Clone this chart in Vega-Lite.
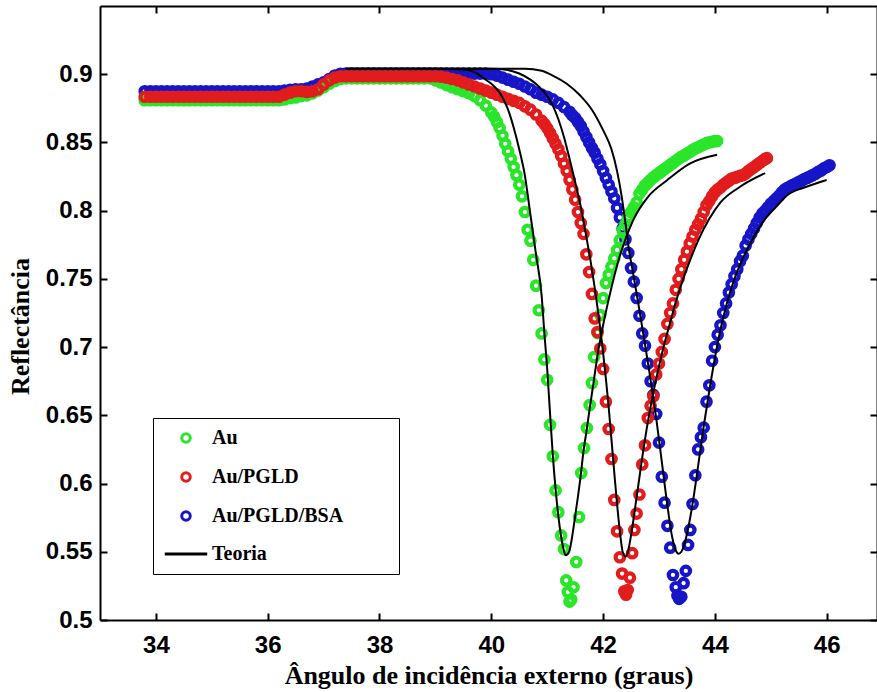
{
"$schema":"https://vega.github.io/schema/vega-lite/v6.json",
"width":777,"height":614,
"autosize":{"type":"none"},
"padding":{"left":100,"top":6,"right":0,"bottom":72},
"background":"white",
"config":{"view":{"stroke":null},
"axis":{"domainColor":"black","domainWidth":2,"tickColor":"black","tickWidth":2,"tickSize":-7,"grid":false,"labelColor":"black","labelFont":"Liberation Sans","labelFontWeight":"bold","labelFontSize":24,"titleColor":"black","titleFont":"Liberation Serif","titleFontWeight":"bold","titleFontSize":26},
"legend":{"orient":"none","legendX":53,"legendY":412,"strokeColor":"black","fillColor":"white","padding":10,"rowPadding":17,"labelFont":"Liberation Serif","labelFontWeight":"bold","labelFontSize":20,"labelColor":"black","labelLimit":400,"symbolSize":72,"symbolStrokeWidth":3,"symbolOffset":13,"labelOffset":16,"titleOrient":"right","titleFont":"Liberation Serif","titleFontSize":20,"titlePadding":46}},
"datasets":{
"points":[
{"series":"Au/PGLD/BSA","angle":33.8,"R":0.8875},{"series":"Au/PGLD/BSA","angle":33.9,"R":0.8875},{"series":"Au/PGLD/BSA","angle":34.0,"R":0.8875},{"series":"Au/PGLD/BSA","angle":34.1,"R":0.8875},{"series":"Au/PGLD/BSA","angle":34.2,"R":0.8875},{"series":"Au/PGLD/BSA","angle":34.3,"R":0.8875},{"series":"Au/PGLD/BSA","angle":34.4,"R":0.8875},{"series":"Au/PGLD/BSA","angle":34.5,"R":0.8875},{"series":"Au/PGLD/BSA","angle":34.6,"R":0.8875},{"series":"Au/PGLD/BSA","angle":34.7,"R":0.8875},{"series":"Au/PGLD/BSA","angle":34.8,"R":0.8875},{"series":"Au/PGLD/BSA","angle":34.9,"R":0.8875},{"series":"Au/PGLD/BSA","angle":35.0,"R":0.8875},{"series":"Au/PGLD/BSA","angle":35.1,"R":0.8875},{"series":"Au/PGLD/BSA","angle":35.2,"R":0.8875},{"series":"Au/PGLD/BSA","angle":35.3,"R":0.8875},{"series":"Au/PGLD/BSA","angle":35.4,"R":0.8875},{"series":"Au/PGLD/BSA","angle":35.5,"R":0.8875},{"series":"Au/PGLD/BSA","angle":35.6,"R":0.8875},{"series":"Au/PGLD/BSA","angle":35.7,"R":0.8875},{"series":"Au/PGLD/BSA","angle":35.8,"R":0.8875},{"series":"Au/PGLD/BSA","angle":35.9,"R":0.8875},{"series":"Au/PGLD/BSA","angle":36.0,"R":0.8875},{"series":"Au/PGLD/BSA","angle":36.1,"R":0.8875},{"series":"Au/PGLD/BSA","angle":36.2,"R":0.8875},
{"series":"Au/PGLD/BSA","angle":36.3,"R":0.888},{"series":"Au/PGLD/BSA","angle":36.4,"R":0.8885},{"series":"Au/PGLD/BSA","angle":36.5,"R":0.889},{"series":"Au/PGLD/BSA","angle":36.6,"R":0.889},{"series":"Au/PGLD/BSA","angle":36.7,"R":0.8895},{"series":"Au/PGLD/BSA","angle":36.8,"R":0.891},{"series":"Au/PGLD/BSA","angle":36.9,"R":0.8925},{"series":"Au/PGLD/BSA","angle":37.0,"R":0.894},{"series":"Au/PGLD/BSA","angle":37.1,"R":0.8965},{"series":"Au/PGLD/BSA","angle":37.2,"R":0.899},{"series":"Au/PGLD/BSA","angle":37.3,"R":0.9003},
{"series":"Au/PGLD/BSA","angle":37.4,"R":0.9005},{"series":"Au/PGLD/BSA","angle":37.5,"R":0.9005},{"series":"Au/PGLD/BSA","angle":37.6,"R":0.9005},{"series":"Au/PGLD/BSA","angle":37.7,"R":0.9005},{"series":"Au/PGLD/BSA","angle":37.8,"R":0.9005},{"series":"Au/PGLD/BSA","angle":37.9,"R":0.9005},{"series":"Au/PGLD/BSA","angle":38.0,"R":0.9005},{"series":"Au/PGLD/BSA","angle":38.1,"R":0.9005},{"series":"Au/PGLD/BSA","angle":38.2,"R":0.9005},{"series":"Au/PGLD/BSA","angle":38.3,"R":0.9005},{"series":"Au/PGLD/BSA","angle":38.4,"R":0.9005},{"series":"Au/PGLD/BSA","angle":38.5,"R":0.9005},{"series":"Au/PGLD/BSA","angle":38.6,"R":0.9005},{"series":"Au/PGLD/BSA","angle":38.7,"R":0.9005},{"series":"Au/PGLD/BSA","angle":38.8,"R":0.9005},{"series":"Au/PGLD/BSA","angle":38.9,"R":0.9005},{"series":"Au/PGLD/BSA","angle":39.0,"R":0.9005},{"series":"Au/PGLD/BSA","angle":39.1,"R":0.9005},{"series":"Au/PGLD/BSA","angle":39.2,"R":0.9005},{"series":"Au/PGLD/BSA","angle":39.3,"R":0.9005},{"series":"Au/PGLD/BSA","angle":39.4,"R":0.9005},{"series":"Au/PGLD/BSA","angle":39.5,"R":0.9005},{"series":"Au/PGLD/BSA","angle":39.6,"R":0.9005},{"series":"Au/PGLD/BSA","angle":39.7,"R":0.9005},{"series":"Au/PGLD/BSA","angle":39.8,"R":0.9005},{"series":"Au/PGLD/BSA","angle":39.9,"R":0.9005},
{"series":"Au/PGLD/BSA","angle":40.0,"R":0.900},{"series":"Au/PGLD/BSA","angle":40.1,"R":0.899},{"series":"Au/PGLD/BSA","angle":40.2,"R":0.8975},{"series":"Au/PGLD/BSA","angle":40.3,"R":0.896},{"series":"Au/PGLD/BSA","angle":40.4,"R":0.8945},{"series":"Au/PGLD/BSA","angle":40.5,"R":0.893},{"series":"Au/PGLD/BSA","angle":40.6,"R":0.891},{"series":"Au/PGLD/BSA","angle":40.7,"R":0.889},{"series":"Au/PGLD/BSA","angle":40.8,"R":0.8865},{"series":"Au/PGLD/BSA","angle":40.9,"R":0.885},{"series":"Au/PGLD/BSA","angle":41.0,"R":0.8835},{"series":"Au/PGLD/BSA","angle":41.1,"R":0.8815},{"series":"Au/PGLD/BSA","angle":41.2,"R":0.879},{"series":"Au/PGLD/BSA","angle":41.3,"R":0.876},{"series":"Au/PGLD/BSA","angle":41.4,"R":0.8725},{"series":"Au/PGLD/BSA","angle":41.45,"R":0.870},
{"series":"Au/PGLD/BSA","angle":41.5,"R":0.868},{"series":"Au/PGLD/BSA","angle":41.55,"R":0.865},{"series":"Au/PGLD/BSA","angle":41.6,"R":0.862},{"series":"Au/PGLD/BSA","angle":41.65,"R":0.858},{"series":"Au/PGLD/BSA","angle":41.7,"R":0.854},{"series":"Au/PGLD/BSA","angle":41.75,"R":0.850},{"series":"Au/PGLD/BSA","angle":41.8,"R":0.846},{"series":"Au/PGLD/BSA","angle":41.85,"R":0.8425},{"series":"Au/PGLD/BSA","angle":41.9,"R":0.838},{"series":"Au/PGLD/BSA","angle":41.95,"R":0.834},{"series":"Au/PGLD/BSA","angle":42.0,"R":0.829},{"series":"Au/PGLD/BSA","angle":42.05,"R":0.824},{"series":"Au/PGLD/BSA","angle":42.1,"R":0.819},{"series":"Au/PGLD/BSA","angle":42.15,"R":0.814},{"series":"Au/PGLD/BSA","angle":42.2,"R":0.809},{"series":"Au/PGLD/BSA","angle":42.25,"R":0.802},{"series":"Au/PGLD/BSA","angle":42.3,"R":0.795},{"series":"Au/PGLD/BSA","angle":42.35,"R":0.787},{"series":"Au/PGLD/BSA","angle":42.4,"R":0.779},{"series":"Au/PGLD/BSA","angle":42.45,"R":0.769},{"series":"Au/PGLD/BSA","angle":42.5,"R":0.758},{"series":"Au/PGLD/BSA","angle":42.55,"R":0.748},{"series":"Au/PGLD/BSA","angle":42.6,"R":0.736},{"series":"Au/PGLD/BSA","angle":42.65,"R":0.723},{"series":"Au/PGLD/BSA","angle":42.7,"R":0.710},{"series":"Au/PGLD/BSA","angle":42.75,"R":0.701},{"series":"Au/PGLD/BSA","angle":42.8,"R":0.688},{"series":"Au/PGLD/BSA","angle":42.85,"R":0.675},{"series":"Au/PGLD/BSA","angle":42.9,"R":0.665},{"series":"Au/PGLD/BSA","angle":42.95,"R":0.651},{"series":"Au/PGLD/BSA","angle":43.0,"R":0.630},{"series":"Au/PGLD/BSA","angle":43.05,"R":0.605},{"series":"Au/PGLD/BSA","angle":43.1,"R":0.586},{"series":"Au/PGLD/BSA","angle":43.15,"R":0.569},{"series":"Au/PGLD/BSA","angle":43.2,"R":0.553},{"series":"Au/PGLD/BSA","angle":43.25,"R":0.533},{"series":"Au/PGLD/BSA","angle":43.3,"R":0.524},{"series":"Au/PGLD/BSA","angle":43.33,"R":0.518},{"series":"Au/PGLD/BSA","angle":43.36,"R":0.5155},{"series":"Au/PGLD/BSA","angle":43.4,"R":0.517},{"series":"Au/PGLD/BSA","angle":43.44,"R":0.527},{"series":"Au/PGLD/BSA","angle":43.48,"R":0.536},{"series":"Au/PGLD/BSA","angle":43.52,"R":0.555},{"series":"Au/PGLD/BSA","angle":43.56,"R":0.566},{"series":"Au/PGLD/BSA","angle":43.6,"R":0.585},{"series":"Au/PGLD/BSA","angle":43.65,"R":0.606},{"series":"Au/PGLD/BSA","angle":43.7,"R":0.625},{"series":"Au/PGLD/BSA","angle":43.75,"R":0.634},{"series":"Au/PGLD/BSA","angle":43.8,"R":0.641},{"series":"Au/PGLD/BSA","angle":43.85,"R":0.660},{"series":"Au/PGLD/BSA","angle":43.9,"R":0.672},{"series":"Au/PGLD/BSA","angle":43.95,"R":0.690},{"series":"Au/PGLD/BSA","angle":44.0,"R":0.700},{"series":"Au/PGLD/BSA","angle":44.05,"R":0.709},{"series":"Au/PGLD/BSA","angle":44.1,"R":0.716},{"series":"Au/PGLD/BSA","angle":44.15,"R":0.725},{"series":"Au/PGLD/BSA","angle":44.2,"R":0.732},{"series":"Au/PGLD/BSA","angle":44.25,"R":0.740},{"series":"Au/PGLD/BSA","angle":44.3,"R":0.746},{"series":"Au/PGLD/BSA","angle":44.35,"R":0.752},{"series":"Au/PGLD/BSA","angle":44.4,"R":0.757},{"series":"Au/PGLD/BSA","angle":44.45,"R":0.763},{"series":"Au/PGLD/BSA","angle":44.5,"R":0.767},{"series":"Au/PGLD/BSA","angle":44.55,"R":0.7745},{"series":"Au/PGLD/BSA","angle":44.6,"R":0.779},{"series":"Au/PGLD/BSA","angle":44.65,"R":0.783},{"series":"Au/PGLD/BSA","angle":44.7,"R":0.787},{"series":"Au/PGLD/BSA","angle":44.75,"R":0.791},{"series":"Au/PGLD/BSA","angle":44.8,"R":0.795},{"series":"Au/PGLD/BSA","angle":44.85,"R":0.798},{"series":"Au/PGLD/BSA","angle":44.9,"R":0.800},{"series":"Au/PGLD/BSA","angle":44.95,"R":0.8025},{"series":"Au/PGLD/BSA","angle":45.0,"R":0.805},{"series":"Au/PGLD/BSA","angle":45.05,"R":0.807},{"series":"Au/PGLD/BSA","angle":45.1,"R":0.809},{"series":"Au/PGLD/BSA","angle":45.15,"R":0.811},{"series":"Au/PGLD/BSA","angle":45.2,"R":0.8135},{"series":"Au/PGLD/BSA","angle":45.25,"R":0.8155},{"series":"Au/PGLD/BSA","angle":45.3,"R":0.8168},{"series":"Au/PGLD/BSA","angle":45.35,"R":0.8178},{"series":"Au/PGLD/BSA","angle":45.4,"R":0.819},{"series":"Au/PGLD/BSA","angle":45.45,"R":0.8198},{"series":"Au/PGLD/BSA","angle":45.5,"R":0.821},{"series":"Au/PGLD/BSA","angle":45.55,"R":0.822},{"series":"Au/PGLD/BSA","angle":45.6,"R":0.8232},{"series":"Au/PGLD/BSA","angle":45.65,"R":0.824},{"series":"Au/PGLD/BSA","angle":45.7,"R":0.825},{"series":"Au/PGLD/BSA","angle":45.75,"R":0.826},{"series":"Au/PGLD/BSA","angle":45.8,"R":0.827},{"series":"Au/PGLD/BSA","angle":45.85,"R":0.8285},{"series":"Au/PGLD/BSA","angle":45.9,"R":0.8295},{"series":"Au/PGLD/BSA","angle":45.95,"R":0.831},{"series":"Au/PGLD/BSA","angle":46.0,"R":0.832},{"series":"Au/PGLD/BSA","angle":46.05,"R":0.8333},
{"series":"Au","angle":33.8,"R":0.881},{"series":"Au","angle":33.9,"R":0.881},{"series":"Au","angle":34.0,"R":0.881},{"series":"Au","angle":34.1,"R":0.881},{"series":"Au","angle":34.2,"R":0.881},{"series":"Au","angle":34.3,"R":0.881},{"series":"Au","angle":34.4,"R":0.881},{"series":"Au","angle":34.5,"R":0.881},{"series":"Au","angle":34.6,"R":0.881},{"series":"Au","angle":34.7,"R":0.881},{"series":"Au","angle":34.8,"R":0.881},{"series":"Au","angle":34.9,"R":0.881},{"series":"Au","angle":35.0,"R":0.881},{"series":"Au","angle":35.1,"R":0.881},{"series":"Au","angle":35.2,"R":0.881},{"series":"Au","angle":35.3,"R":0.881},{"series":"Au","angle":35.4,"R":0.881},{"series":"Au","angle":35.5,"R":0.881},{"series":"Au","angle":35.6,"R":0.881},{"series":"Au","angle":35.7,"R":0.881},{"series":"Au","angle":35.8,"R":0.881},{"series":"Au","angle":35.9,"R":0.881},{"series":"Au","angle":36.0,"R":0.881},{"series":"Au","angle":36.1,"R":0.881},{"series":"Au","angle":36.2,"R":0.881},
{"series":"Au","angle":36.3,"R":0.8815},{"series":"Au","angle":36.4,"R":0.8825},{"series":"Au","angle":36.5,"R":0.883},{"series":"Au","angle":36.6,"R":0.884},{"series":"Au","angle":36.7,"R":0.8845},{"series":"Au","angle":36.8,"R":0.886},{"series":"Au","angle":36.9,"R":0.888},{"series":"Au","angle":37.0,"R":0.8905},{"series":"Au","angle":37.1,"R":0.893},{"series":"Au","angle":37.2,"R":0.895},{"series":"Au","angle":37.3,"R":0.8965},
{"series":"Au","angle":37.4,"R":0.897},{"series":"Au","angle":37.5,"R":0.897},{"series":"Au","angle":37.6,"R":0.897},{"series":"Au","angle":37.7,"R":0.897},{"series":"Au","angle":37.8,"R":0.897},{"series":"Au","angle":37.9,"R":0.897},{"series":"Au","angle":38.0,"R":0.897},{"series":"Au","angle":38.1,"R":0.897},{"series":"Au","angle":38.2,"R":0.897},{"series":"Au","angle":38.3,"R":0.897},{"series":"Au","angle":38.4,"R":0.897},{"series":"Au","angle":38.5,"R":0.897},{"series":"Au","angle":38.6,"R":0.897},{"series":"Au","angle":38.7,"R":0.897},{"series":"Au","angle":38.8,"R":0.897},{"series":"Au","angle":38.9,"R":0.897},
{"series":"Au","angle":39.0,"R":0.8955},{"series":"Au","angle":39.1,"R":0.894},{"series":"Au","angle":39.2,"R":0.892},{"series":"Au","angle":39.3,"R":0.8905},{"series":"Au","angle":39.4,"R":0.889},{"series":"Au","angle":39.5,"R":0.8875},{"series":"Au","angle":39.6,"R":0.886},{"series":"Au","angle":39.7,"R":0.884},{"series":"Au","angle":39.8,"R":0.881},{"series":"Au","angle":39.9,"R":0.877},{"series":"Au","angle":40.0,"R":0.872},{"series":"Au","angle":40.05,"R":0.869},{"series":"Au","angle":40.1,"R":0.865},{"series":"Au","angle":40.15,"R":0.8605},{"series":"Au","angle":40.2,"R":0.855},{"series":"Au","angle":40.25,"R":0.849},{"series":"Au","angle":40.3,"R":0.8435},{"series":"Au","angle":40.35,"R":0.838},{"series":"Au","angle":40.4,"R":0.832},{"series":"Au","angle":40.45,"R":0.826},{"series":"Au","angle":40.5,"R":0.819},{"series":"Au","angle":40.55,"R":0.8105},{"series":"Au","angle":40.6,"R":0.799},{"series":"Au","angle":40.65,"R":0.786},{"series":"Au","angle":40.7,"R":0.778},{"series":"Au","angle":40.75,"R":0.764},{"series":"Au","angle":40.8,"R":0.745},{"series":"Au","angle":40.85,"R":0.727},{"series":"Au","angle":40.9,"R":0.710},{"series":"Au","angle":40.95,"R":0.691},{"series":"Au","angle":41.0,"R":0.676},{"series":"Au","angle":41.05,"R":0.643},{"series":"Au","angle":41.1,"R":0.620},{"series":"Au","angle":41.15,"R":0.595},{"series":"Au","angle":41.2,"R":0.579},{"series":"Au","angle":41.25,"R":0.562},{"series":"Au","angle":41.3,"R":0.552},{"series":"Au","angle":41.34,"R":0.529},{"series":"Au","angle":41.37,"R":0.5205},{"series":"Au","angle":41.4,"R":0.5135},{"series":"Au","angle":41.43,"R":0.515},{"series":"Au","angle":41.47,"R":0.524},{"series":"Au","angle":41.52,"R":0.5425},{"series":"Au","angle":41.57,"R":0.5755},{"series":"Au","angle":41.61,"R":0.6077},{"series":"Au","angle":41.66,"R":0.626},{"series":"Au","angle":41.71,"R":0.6407},{"series":"Au","angle":41.76,"R":0.6575},{"series":"Au","angle":41.8,"R":0.6737},{"series":"Au","angle":41.84,"R":0.6927},{"series":"Au","angle":41.9,"R":0.7103},{"series":"Au","angle":41.95,"R":0.7235},{"series":"Au","angle":42.0,"R":0.7359},{"series":"Au","angle":42.05,"R":0.7469},{"series":"Au","angle":42.1,"R":0.753},{"series":"Au","angle":42.15,"R":0.759},{"series":"Au","angle":42.2,"R":0.765},{"series":"Au","angle":42.25,"R":0.7711},{"series":"Au","angle":42.3,"R":0.7784},{"series":"Au","angle":42.35,"R":0.7857},{"series":"Au","angle":42.4,"R":0.790},{"series":"Au","angle":42.45,"R":0.795},{"series":"Au","angle":42.5,"R":0.799},{"series":"Au","angle":42.55,"R":0.8025},{"series":"Au","angle":42.6,"R":0.806},{"series":"Au","angle":42.65,"R":0.8125},{"series":"Au","angle":42.7,"R":0.8155},{"series":"Au","angle":42.75,"R":0.8185},{"series":"Au","angle":42.8,"R":0.8205},{"series":"Au","angle":42.85,"R":0.8225},{"series":"Au","angle":42.9,"R":0.8245},{"series":"Au","angle":42.95,"R":0.826},{"series":"Au","angle":43.0,"R":0.8275},{"series":"Au","angle":43.05,"R":0.829},{"series":"Au","angle":43.1,"R":0.8305},{"series":"Au","angle":43.15,"R":0.832},{"series":"Au","angle":43.2,"R":0.8335},{"series":"Au","angle":43.25,"R":0.835},{"series":"Au","angle":43.3,"R":0.8365},{"series":"Au","angle":43.35,"R":0.838},{"series":"Au","angle":43.4,"R":0.8395},{"series":"Au","angle":43.45,"R":0.8405},{"series":"Au","angle":43.5,"R":0.8418},{"series":"Au","angle":43.55,"R":0.843},{"series":"Au","angle":43.6,"R":0.8444},{"series":"Au","angle":43.65,"R":0.8455},{"series":"Au","angle":43.7,"R":0.8465},{"series":"Au","angle":43.75,"R":0.8475},{"series":"Au","angle":43.8,"R":0.8485},{"series":"Au","angle":43.85,"R":0.8495},{"series":"Au","angle":43.9,"R":0.850},{"series":"Au","angle":43.95,"R":0.8505},{"series":"Au","angle":44.0,"R":0.851},{"series":"Au","angle":44.04,"R":0.851},
{"series":"Au/PGLD","angle":33.8,"R":0.8835},{"series":"Au/PGLD","angle":33.9,"R":0.8835},{"series":"Au/PGLD","angle":34.0,"R":0.8835},{"series":"Au/PGLD","angle":34.1,"R":0.8835},{"series":"Au/PGLD","angle":34.2,"R":0.8835},{"series":"Au/PGLD","angle":34.3,"R":0.8835},{"series":"Au/PGLD","angle":34.4,"R":0.8835},{"series":"Au/PGLD","angle":34.5,"R":0.8835},{"series":"Au/PGLD","angle":34.6,"R":0.8835},{"series":"Au/PGLD","angle":34.7,"R":0.8835},{"series":"Au/PGLD","angle":34.8,"R":0.8835},{"series":"Au/PGLD","angle":34.9,"R":0.8835},{"series":"Au/PGLD","angle":35.0,"R":0.8835},{"series":"Au/PGLD","angle":35.1,"R":0.8835},{"series":"Au/PGLD","angle":35.2,"R":0.8835},{"series":"Au/PGLD","angle":35.3,"R":0.8835},{"series":"Au/PGLD","angle":35.4,"R":0.8835},{"series":"Au/PGLD","angle":35.5,"R":0.8835},{"series":"Au/PGLD","angle":35.6,"R":0.8835},{"series":"Au/PGLD","angle":35.7,"R":0.8835},{"series":"Au/PGLD","angle":35.8,"R":0.8835},{"series":"Au/PGLD","angle":35.9,"R":0.8835},{"series":"Au/PGLD","angle":36.0,"R":0.8835},{"series":"Au/PGLD","angle":36.1,"R":0.8835},{"series":"Au/PGLD","angle":36.2,"R":0.8835},
{"series":"Au/PGLD","angle":36.3,"R":0.885},{"series":"Au/PGLD","angle":36.4,"R":0.8865},{"series":"Au/PGLD","angle":36.5,"R":0.8875},{"series":"Au/PGLD","angle":36.6,"R":0.8875},{"series":"Au/PGLD","angle":36.7,"R":0.887},{"series":"Au/PGLD","angle":36.8,"R":0.8875},{"series":"Au/PGLD","angle":36.9,"R":0.889},{"series":"Au/PGLD","angle":37.0,"R":0.8925},{"series":"Au/PGLD","angle":37.1,"R":0.8955},{"series":"Au/PGLD","angle":37.2,"R":0.8975},{"series":"Au/PGLD","angle":37.3,"R":0.8985},
{"series":"Au/PGLD","angle":37.4,"R":0.8985},{"series":"Au/PGLD","angle":37.5,"R":0.8985},{"series":"Au/PGLD","angle":37.6,"R":0.8985},{"series":"Au/PGLD","angle":37.7,"R":0.8985},{"series":"Au/PGLD","angle":37.8,"R":0.8985},{"series":"Au/PGLD","angle":37.9,"R":0.8985},{"series":"Au/PGLD","angle":38.0,"R":0.8985},{"series":"Au/PGLD","angle":38.1,"R":0.8985},{"series":"Au/PGLD","angle":38.2,"R":0.8985},{"series":"Au/PGLD","angle":38.3,"R":0.8985},{"series":"Au/PGLD","angle":38.4,"R":0.8985},{"series":"Au/PGLD","angle":38.5,"R":0.8985},{"series":"Au/PGLD","angle":38.6,"R":0.8985},{"series":"Au/PGLD","angle":38.7,"R":0.8985},{"series":"Au/PGLD","angle":38.8,"R":0.8985},{"series":"Au/PGLD","angle":38.9,"R":0.8985},{"series":"Au/PGLD","angle":39.0,"R":0.8985},
{"series":"Au/PGLD","angle":39.1,"R":0.8982},{"series":"Au/PGLD","angle":39.2,"R":0.8975},{"series":"Au/PGLD","angle":39.3,"R":0.8965},{"series":"Au/PGLD","angle":39.4,"R":0.8955},{"series":"Au/PGLD","angle":39.5,"R":0.894},{"series":"Au/PGLD","angle":39.6,"R":0.8925},{"series":"Au/PGLD","angle":39.7,"R":0.891},{"series":"Au/PGLD","angle":39.8,"R":0.8895},{"series":"Au/PGLD","angle":39.9,"R":0.888},{"series":"Au/PGLD","angle":40.0,"R":0.8865},{"series":"Au/PGLD","angle":40.1,"R":0.885},{"series":"Au/PGLD","angle":40.2,"R":0.8835},{"series":"Au/PGLD","angle":40.3,"R":0.882},{"series":"Au/PGLD","angle":40.4,"R":0.8805},{"series":"Au/PGLD","angle":40.5,"R":0.879},{"series":"Au/PGLD","angle":40.6,"R":0.8765},{"series":"Au/PGLD","angle":40.7,"R":0.874},{"series":"Au/PGLD","angle":40.8,"R":0.8705},{"series":"Au/PGLD","angle":40.9,"R":0.866},{"series":"Au/PGLD","angle":40.95,"R":0.8635},{"series":"Au/PGLD","angle":41.0,"R":0.8605},{"series":"Au/PGLD","angle":41.05,"R":0.857},{"series":"Au/PGLD","angle":41.1,"R":0.853},{"series":"Au/PGLD","angle":41.15,"R":0.849},{"series":"Au/PGLD","angle":41.2,"R":0.845},{"series":"Au/PGLD","angle":41.25,"R":0.840},{"series":"Au/PGLD","angle":41.3,"R":0.8345},{"series":"Au/PGLD","angle":41.35,"R":0.829},{"series":"Au/PGLD","angle":41.4,"R":0.8225},{"series":"Au/PGLD","angle":41.45,"R":0.8155},{"series":"Au/PGLD","angle":41.5,"R":0.808},{"series":"Au/PGLD","angle":41.55,"R":0.799},{"series":"Au/PGLD","angle":41.6,"R":0.791},{"series":"Au/PGLD","angle":41.65,"R":0.783},{"series":"Au/PGLD","angle":41.7,"R":0.768},{"series":"Au/PGLD","angle":41.75,"R":0.755},{"series":"Au/PGLD","angle":41.8,"R":0.739},{"series":"Au/PGLD","angle":41.85,"R":0.721},{"series":"Au/PGLD","angle":41.9,"R":0.711},{"series":"Au/PGLD","angle":41.95,"R":0.699},{"series":"Au/PGLD","angle":42.0,"R":0.684},{"series":"Au/PGLD","angle":42.05,"R":0.660},{"series":"Au/PGLD","angle":42.1,"R":0.640},{"series":"Au/PGLD","angle":42.15,"R":0.618},{"series":"Au/PGLD","angle":42.2,"R":0.588},{"series":"Au/PGLD","angle":42.25,"R":0.565},{"series":"Au/PGLD","angle":42.3,"R":0.546},{"series":"Au/PGLD","angle":42.34,"R":0.534},{"series":"Au/PGLD","angle":42.38,"R":0.521},{"series":"Au/PGLD","angle":42.41,"R":0.5185},{"series":"Au/PGLD","angle":42.44,"R":0.522},{"series":"Au/PGLD","angle":42.48,"R":0.531},{"series":"Au/PGLD","angle":42.52,"R":0.549},{"series":"Au/PGLD","angle":42.56,"R":0.566},{"series":"Au/PGLD","angle":42.6,"R":0.578},{"series":"Au/PGLD","angle":42.65,"R":0.592},{"series":"Au/PGLD","angle":42.7,"R":0.614},{"series":"Au/PGLD","angle":42.75,"R":0.628},{"series":"Au/PGLD","angle":42.8,"R":0.648},{"series":"Au/PGLD","angle":42.85,"R":0.657},{"series":"Au/PGLD","angle":42.9,"R":0.664},{"series":"Au/PGLD","angle":42.95,"R":0.680},{"series":"Au/PGLD","angle":43.0,"R":0.688},{"series":"Au/PGLD","angle":43.05,"R":0.6965},{"series":"Au/PGLD","angle":43.1,"R":0.706},{"series":"Au/PGLD","angle":43.15,"R":0.717},{"series":"Au/PGLD","angle":43.2,"R":0.725},{"series":"Au/PGLD","angle":43.25,"R":0.732},{"series":"Au/PGLD","angle":43.3,"R":0.742},{"series":"Au/PGLD","angle":43.35,"R":0.750},{"series":"Au/PGLD","angle":43.4,"R":0.757},{"series":"Au/PGLD","angle":43.45,"R":0.764},{"series":"Au/PGLD","angle":43.5,"R":0.770},{"series":"Au/PGLD","angle":43.55,"R":0.776},{"series":"Au/PGLD","angle":43.6,"R":0.781},{"series":"Au/PGLD","angle":43.65,"R":0.786},{"series":"Au/PGLD","angle":43.7,"R":0.790},{"series":"Au/PGLD","angle":43.75,"R":0.794},{"series":"Au/PGLD","angle":43.8,"R":0.799},{"series":"Au/PGLD","angle":43.85,"R":0.804},{"series":"Au/PGLD","angle":43.9,"R":0.807},{"series":"Au/PGLD","angle":43.95,"R":0.8105},{"series":"Au/PGLD","angle":44.0,"R":0.8135},{"series":"Au/PGLD","angle":44.05,"R":0.8155},{"series":"Au/PGLD","angle":44.1,"R":0.817},{"series":"Au/PGLD","angle":44.15,"R":0.819},{"series":"Au/PGLD","angle":44.2,"R":0.8205},{"series":"Au/PGLD","angle":44.25,"R":0.822},{"series":"Au/PGLD","angle":44.3,"R":0.8235},{"series":"Au/PGLD","angle":44.35,"R":0.824},{"series":"Au/PGLD","angle":44.4,"R":0.8248},{"series":"Au/PGLD","angle":44.45,"R":0.8255},{"series":"Au/PGLD","angle":44.5,"R":0.826},{"series":"Au/PGLD","angle":44.55,"R":0.8272},{"series":"Au/PGLD","angle":44.6,"R":0.829},{"series":"Au/PGLD","angle":44.65,"R":0.8305},{"series":"Au/PGLD","angle":44.7,"R":0.832},{"series":"Au/PGLD","angle":44.75,"R":0.8335},{"series":"Au/PGLD","angle":44.8,"R":0.835},{"series":"Au/PGLD","angle":44.85,"R":0.8365},{"series":"Au/PGLD","angle":44.9,"R":0.8378},{"series":"Au/PGLD","angle":44.93,"R":0.8385}
],
"theory":[
{"series":"Teoria","curve":"Au","angle":37.4,"R":0.904},{"series":"Teoria","curve":"Au","angle":39.0,"R":0.904},{"series":"Teoria","curve":"Au","angle":39.5,"R":0.9035},{"series":"Teoria","curve":"Au","angle":39.7,"R":0.9015},{"series":"Teoria","curve":"Au","angle":39.8,"R":0.899},{"series":"Teoria","curve":"Au","angle":39.9,"R":0.896},{"series":"Teoria","curve":"Au","angle":40.0,"R":0.893},{"series":"Teoria","curve":"Au","angle":40.1,"R":0.889},{"series":"Teoria","curve":"Au","angle":40.2,"R":0.883},{"series":"Teoria","curve":"Au","angle":40.3,"R":0.874},{"series":"Teoria","curve":"Au","angle":40.4,"R":0.861},{"series":"Teoria","curve":"Au","angle":40.5,"R":0.845},{"series":"Teoria","curve":"Au","angle":40.6,"R":0.826},{"series":"Teoria","curve":"Au","angle":40.7,"R":0.797},{"series":"Teoria","curve":"Au","angle":40.8,"R":0.768},{"series":"Teoria","curve":"Au","angle":40.9,"R":0.738},{"series":"Teoria","curve":"Au","angle":40.95,"R":0.71},{"series":"Teoria","curve":"Au","angle":41.0,"R":0.684},{"series":"Teoria","curve":"Au","angle":41.05,"R":0.652},{"series":"Teoria","curve":"Au","angle":41.1,"R":0.621},{"series":"Teoria","curve":"Au","angle":41.15,"R":0.596},{"series":"Teoria","curve":"Au","angle":41.2,"R":0.576},{"series":"Teoria","curve":"Au","angle":41.25,"R":0.561},{"series":"Teoria","curve":"Au","angle":41.3,"R":0.5505},{"series":"Teoria","curve":"Au","angle":41.33,"R":0.5475},{"series":"Teoria","curve":"Au","angle":41.36,"R":0.548},{"series":"Teoria","curve":"Au","angle":41.4,"R":0.551},{"series":"Teoria","curve":"Au","angle":41.45,"R":0.562},{"series":"Teoria","curve":"Au","angle":41.5,"R":0.576},{"series":"Teoria","curve":"Au","angle":41.55,"R":0.5905},{"series":"Teoria","curve":"Au","angle":41.6,"R":0.606},{"series":"Teoria","curve":"Au","angle":41.65,"R":0.624},{"series":"Teoria","curve":"Au","angle":41.7,"R":0.6375},{"series":"Teoria","curve":"Au","angle":41.75,"R":0.652},{"series":"Teoria","curve":"Au","angle":41.8,"R":0.666},{"series":"Teoria","curve":"Au","angle":41.85,"R":0.680},{"series":"Teoria","curve":"Au","angle":41.9,"R":0.694},{"series":"Teoria","curve":"Au","angle":42.0,"R":0.716},{"series":"Teoria","curve":"Au","angle":42.1,"R":0.735},{"series":"Teoria","curve":"Au","angle":42.2,"R":0.752},{"series":"Teoria","curve":"Au","angle":42.3,"R":0.767},{"series":"Teoria","curve":"Au","angle":42.4,"R":0.779},{"series":"Teoria","curve":"Au","angle":42.55,"R":0.794},{"series":"Teoria","curve":"Au","angle":42.8,"R":0.810},{"series":"Teoria","curve":"Au","angle":43.15,"R":0.8225},{"series":"Teoria","curve":"Au","angle":43.55,"R":0.8345},{"series":"Teoria","curve":"Au","angle":44.04,"R":0.841},
{"series":"Teoria","curve":"Au/PGLD","angle":37.4,"R":0.904},{"series":"Teoria","curve":"Au/PGLD","angle":40.0,"R":0.904},{"series":"Teoria","curve":"Au/PGLD","angle":40.3,"R":0.903},{"series":"Teoria","curve":"Au/PGLD","angle":40.5,"R":0.9005},{"series":"Teoria","curve":"Au/PGLD","angle":40.7,"R":0.896},{"series":"Teoria","curve":"Au/PGLD","angle":40.85,"R":0.891},{"series":"Teoria","curve":"Au/PGLD","angle":41.0,"R":0.884},{"series":"Teoria","curve":"Au/PGLD","angle":41.1,"R":0.877},{"series":"Teoria","curve":"Au/PGLD","angle":41.2,"R":0.867},{"series":"Teoria","curve":"Au/PGLD","angle":41.3,"R":0.854},{"series":"Teoria","curve":"Au/PGLD","angle":41.4,"R":0.838},{"series":"Teoria","curve":"Au/PGLD","angle":41.5,"R":0.821},{"series":"Teoria","curve":"Au/PGLD","angle":41.6,"R":0.803},{"series":"Teoria","curve":"Au/PGLD","angle":41.7,"R":0.781},{"series":"Teoria","curve":"Au/PGLD","angle":41.8,"R":0.757},{"series":"Teoria","curve":"Au/PGLD","angle":41.9,"R":0.729},{"series":"Teoria","curve":"Au/PGLD","angle":42.0,"R":0.696},{"series":"Teoria","curve":"Au/PGLD","angle":42.1,"R":0.656},{"series":"Teoria","curve":"Au/PGLD","angle":42.2,"R":0.608},{"series":"Teoria","curve":"Au/PGLD","angle":42.25,"R":0.585},{"series":"Teoria","curve":"Au/PGLD","angle":42.3,"R":0.565},{"series":"Teoria","curve":"Au/PGLD","angle":42.35,"R":0.550},{"series":"Teoria","curve":"Au/PGLD","angle":42.4,"R":0.5465},{"series":"Teoria","curve":"Au/PGLD","angle":42.45,"R":0.551},{"series":"Teoria","curve":"Au/PGLD","angle":42.5,"R":0.562},{"series":"Teoria","curve":"Au/PGLD","angle":42.6,"R":0.590},{"series":"Teoria","curve":"Au/PGLD","angle":42.7,"R":0.619},{"series":"Teoria","curve":"Au/PGLD","angle":42.8,"R":0.645},{"series":"Teoria","curve":"Au/PGLD","angle":42.9,"R":0.667},{"series":"Teoria","curve":"Au/PGLD","angle":43.0,"R":0.686},{"series":"Teoria","curve":"Au/PGLD","angle":43.1,"R":0.703},{"series":"Teoria","curve":"Au/PGLD","angle":43.2,"R":0.718},{"series":"Teoria","curve":"Au/PGLD","angle":43.3,"R":0.733},{"series":"Teoria","curve":"Au/PGLD","angle":43.4,"R":0.746},{"series":"Teoria","curve":"Au/PGLD","angle":43.55,"R":0.763},{"series":"Teoria","curve":"Au/PGLD","angle":43.7,"R":0.778},{"series":"Teoria","curve":"Au/PGLD","angle":43.9,"R":0.794},{"series":"Teoria","curve":"Au/PGLD","angle":44.1,"R":0.806},{"series":"Teoria","curve":"Au/PGLD","angle":44.45,"R":0.8175},{"series":"Teoria","curve":"Au/PGLD","angle":44.9,"R":0.8275},
{"series":"Teoria","curve":"Au/PGLD/BSA","angle":37.4,"R":0.904},{"series":"Teoria","curve":"Au/PGLD/BSA","angle":40.6,"R":0.904},{"series":"Teoria","curve":"Au/PGLD/BSA","angle":40.9,"R":0.9025},{"series":"Teoria","curve":"Au/PGLD/BSA","angle":41.1,"R":0.899},{"series":"Teoria","curve":"Au/PGLD/BSA","angle":41.35,"R":0.893},{"series":"Teoria","curve":"Au/PGLD/BSA","angle":41.6,"R":0.884},{"series":"Teoria","curve":"Au/PGLD/BSA","angle":41.8,"R":0.874},{"series":"Teoria","curve":"Au/PGLD/BSA","angle":42.0,"R":0.859},{"series":"Teoria","curve":"Au/PGLD/BSA","angle":42.15,"R":0.845},{"series":"Teoria","curve":"Au/PGLD/BSA","angle":42.25,"R":0.829},{"series":"Teoria","curve":"Au/PGLD/BSA","angle":42.33,"R":0.811},{"series":"Teoria","curve":"Au/PGLD/BSA","angle":42.4,"R":0.791},{"series":"Teoria","curve":"Au/PGLD/BSA","angle":42.45,"R":0.775},{"series":"Teoria","curve":"Au/PGLD/BSA","angle":42.55,"R":0.751},{"series":"Teoria","curve":"Au/PGLD/BSA","angle":42.65,"R":0.727},{"series":"Teoria","curve":"Au/PGLD/BSA","angle":42.75,"R":0.702},{"series":"Teoria","curve":"Au/PGLD/BSA","angle":42.85,"R":0.676},{"series":"Teoria","curve":"Au/PGLD/BSA","angle":42.95,"R":0.648},{"series":"Teoria","curve":"Au/PGLD/BSA","angle":43.05,"R":0.616},{"series":"Teoria","curve":"Au/PGLD/BSA","angle":43.15,"R":0.584},{"series":"Teoria","curve":"Au/PGLD/BSA","angle":43.23,"R":0.562},{"series":"Teoria","curve":"Au/PGLD/BSA","angle":43.3,"R":0.551},{"series":"Teoria","curve":"Au/PGLD/BSA","angle":43.35,"R":0.5485},{"series":"Teoria","curve":"Au/PGLD/BSA","angle":43.4,"R":0.550},{"series":"Teoria","curve":"Au/PGLD/BSA","angle":43.45,"R":0.555},{"series":"Teoria","curve":"Au/PGLD/BSA","angle":43.5,"R":0.563},{"series":"Teoria","curve":"Au/PGLD/BSA","angle":43.6,"R":0.585},{"series":"Teoria","curve":"Au/PGLD/BSA","angle":43.7,"R":0.613},{"series":"Teoria","curve":"Au/PGLD/BSA","angle":43.8,"R":0.642},{"series":"Teoria","curve":"Au/PGLD/BSA","angle":43.9,"R":0.668},{"series":"Teoria","curve":"Au/PGLD/BSA","angle":44.0,"R":0.692},{"series":"Teoria","curve":"Au/PGLD/BSA","angle":44.1,"R":0.713},{"series":"Teoria","curve":"Au/PGLD/BSA","angle":44.2,"R":0.730},{"series":"Teoria","curve":"Au/PGLD/BSA","angle":44.35,"R":0.750},{"series":"Teoria","curve":"Au/PGLD/BSA","angle":44.5,"R":0.765},{"series":"Teoria","curve":"Au/PGLD/BSA","angle":44.7,"R":0.781},{"series":"Teoria","curve":"Au/PGLD/BSA","angle":44.9,"R":0.794},{"series":"Teoria","curve":"Au/PGLD/BSA","angle":45.1,"R":0.803},{"series":"Teoria","curve":"Au/PGLD/BSA","angle":45.3,"R":0.8115},{"series":"Teoria","curve":"Au/PGLD/BSA","angle":45.6,"R":0.817},{"series":"Teoria","curve":"Au/PGLD/BSA","angle":46.0,"R":0.8225}
]},
"layer":[
{"data":{"name":"points"},
 "mark":{"type":"point","filled":false,"strokeWidth":4.2,"size":72,"opacity":1},
 "encoding":{
  "x":{"field":"angle","type":"quantitative","scale":{"domain":[33,46.9],"nice":false,"zero":false},
   "axis":{"orient":"bottom","values":[34,36,38,40,42,44,46],"labelPadding":20,"title":"Ângulo de incidência externo (graus)","titleBaseline":"alphabetic","titleY":63}},
  "y":{"field":"R","type":"quantitative","scale":{"domain":[0.5,0.95],"nice":false,"zero":false},
   "axis":{"orient":"left","values":[0.5,0.55,0.6,0.65,0.7,0.75,0.8,0.85,0.9],"format":"~g","labelPadding":15,"title":"Reflectância","titleX":-80,"titleY":320,"titleBaseline":"middle","titleAngle":-90}},
  "color":{"field":"series","type":"nominal","scale":{"domain":["Au","Au/PGLD","Au/PGLD/BSA","Teoria"],"range":["#2ae52a","#e21c1c","#1616c8","#000000"]},
   "legend":{"title":"\u00a0\u00a0\u00a0\u00a0"}},
  "shape":{"field":"series","type":"nominal","scale":{"domain":["Au","Au/PGLD","Au/PGLD/BSA","Teoria"],"range":["circle","circle","circle","M-5,0H5"]},
   "legend":{"title":"\u00a0\u00a0\u00a0\u00a0"}}
 }},
{"data":{"name":"theory"},
 "mark":{"type":"line","strokeWidth":2,"interpolate":"monotone"},
 "encoding":{
  "x":{"field":"angle","type":"quantitative","axis":{"orient":"top","values":[34,36,38,40,42,44,46],"labels":false,"title":null}},
  "y":{"field":"R","type":"quantitative","axis":{"orient":"right","values":[0.5,0.55,0.6,0.65,0.7,0.75,0.8,0.85,0.9],"labels":false,"title":null}},
  "detail":{"field":"curve"},
  "color":{"field":"series","type":"nominal","legend":{"title":"\u00a0\u00a0\u00a0\u00a0"}}
 }}
],
"resolve":{"axis":{"x":"independent","y":"independent"}}
}
